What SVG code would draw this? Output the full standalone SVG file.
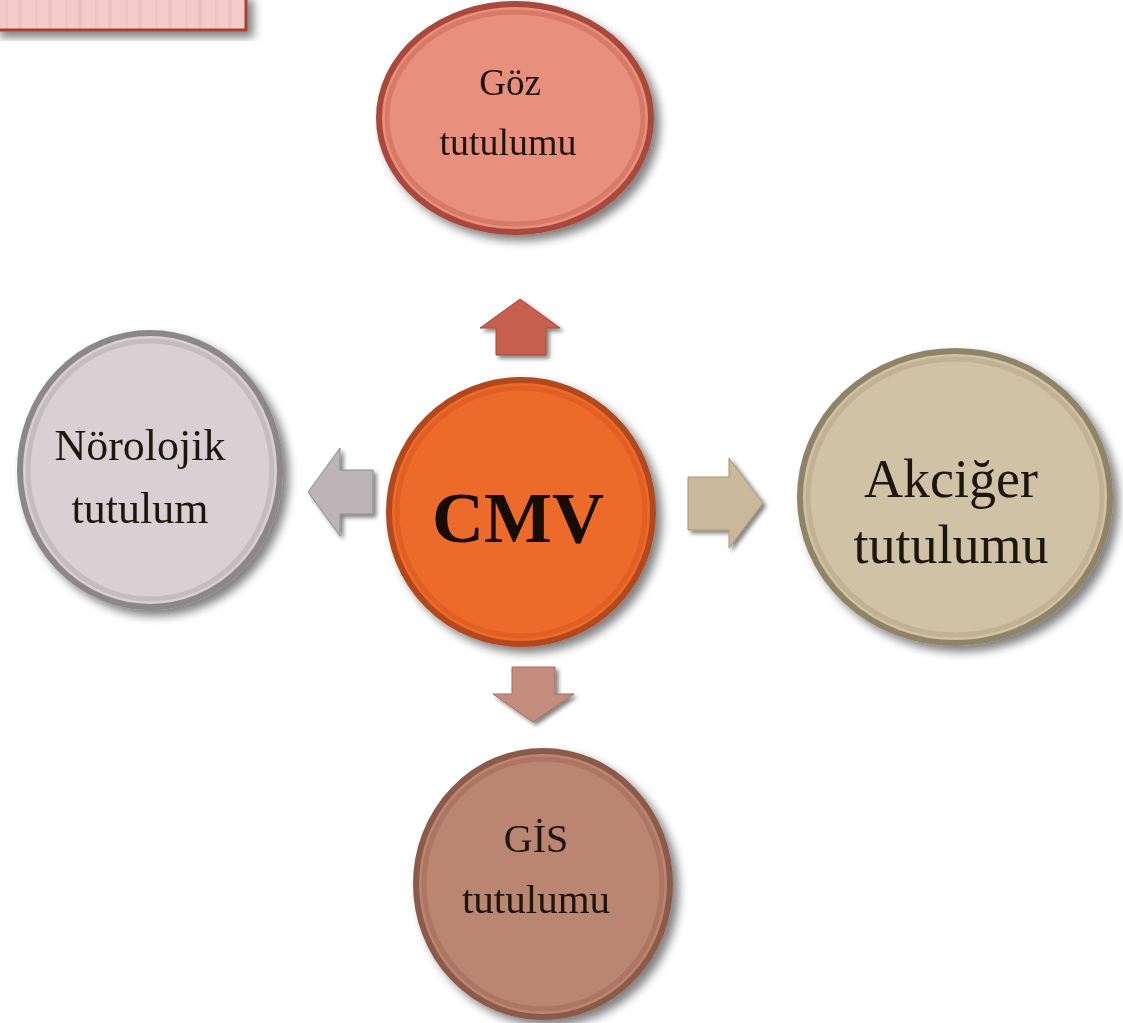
<svg xmlns="http://www.w3.org/2000/svg" width="1123" height="1023" viewBox="0 0 1123 1023">
<defs>
<filter id="sh" x="-20%" y="-20%" width="150%" height="150%">
<feGaussianBlur in="SourceAlpha" stdDeviation="5"/>
<feOffset dx="6" dy="6" result="b"/>
<feComponentTransfer><feFuncA type="linear" slope="0.5"/></feComponentTransfer>
<feMerge><feMergeNode/><feMergeNode in="SourceGraphic"/></feMerge>
</filter>
<filter id="ash" x="-30%" y="-30%" width="170%" height="170%">
<feGaussianBlur in="SourceAlpha" stdDeviation="2"/>
<feOffset dx="3" dy="3"/>
<feComponentTransfer><feFuncA type="linear" slope="0.5"/></feComponentTransfer>
<feMerge><feMergeNode/><feMergeNode in="SourceGraphic"/></feMerge>
</filter>
<pattern id="stripes" width="30" height="40" patternUnits="userSpaceOnUse">
<rect width="30" height="40" fill="#f4cbca"/>
<rect x="18" width="4" height="40" fill="#edc1c0"/>
<rect x="5" width="3" height="40" fill="#f0c6c5"/>
</pattern>
</defs>
<style>
.t{font-family:"Liberation Serif","Times New Roman",serif;fill:#1e1210;text-anchor:middle}
.rim{fill:none;stroke-width:5}
</style>
<rect width="1123" height="1023" fill="#ffffff"/>
<g id="corner-box" filter="url(#sh)">
<rect x="-5" y="-5" width="251" height="35" fill="url(#stripes)" stroke="#a6402a" stroke-width="3"/>
</g>
<g id="connectors">
<path filter="url(#ash)" d="M 496 355 L 496 328 L 480 328 L 520 299 L 560 328 L 546 328 L 546 355 Z" fill="#c65f4d" stroke="#a54a3a" stroke-width="1"/>
<path filter="url(#ash)" d="M 373 470 L 340 470 L 340 448 L 308 492 L 340 536 L 340 514 L 373 514 Z" fill="#bbb5b7" stroke="#8f898b" stroke-width="1"/>
<path filter="url(#ash)" d="M 688 477 L 729 477 L 729 458 L 763 503 L 729 548 L 729 530 L 688 530 Z" fill="#c9b99a" stroke="#a79877" stroke-width="1"/>
<path filter="url(#ash)" d="M 512 667 L 555 667 L 555 694 L 574 694 L 533 722 L 493 694 L 512 694 Z" fill="#c38c7c" stroke="#a06e60" stroke-width="1"/>
</g>
<g id="node-goz" filter="url(#sh)">
<ellipse cx="515" cy="118" rx="136" ry="114" fill="#e98f7d" stroke="#a9493a" stroke-width="6"/>
<ellipse cx="515" cy="118" rx="128" ry="106" class="rim" stroke="#d77a68"/>
<text class="t" x="510" y="95" font-size="37">Göz</text>
<text class="t" x="508" y="155" font-size="38">tutulumu</text>
</g>
<g id="node-norolojik" filter="url(#sh)">
<ellipse cx="150" cy="470" rx="130" ry="137" fill="#d7d1d3" stroke="#8e8789" stroke-width="6"/>
<ellipse cx="150" cy="470" rx="122" ry="129" class="rim" stroke="#c4bdbf"/>
<text class="t" x="140" y="460" font-size="44">Nörolojik</text>
<text class="t" x="140" y="523" font-size="44">tutulum</text>
</g>
<g id="node-cmv" filter="url(#sh)">
<circle cx="521" cy="512" r="132" fill="#ec6b2b" stroke="#b2481a" stroke-width="6"/>
<circle cx="521" cy="512" r="124" class="rim" stroke="#e15f22"/>
<text class="t" x="518" y="542" font-size="72" font-weight="bold" style="fill:#120a06">CMV</text>
</g>
<g id="node-akciger" filter="url(#sh)">
<ellipse cx="955" cy="497" rx="155" ry="146" fill="#d0c2a5" stroke="#8f8468" stroke-width="6"/>
<ellipse cx="955" cy="497" rx="147" ry="138" class="rim" stroke="#c0b293"/>
<text class="t" x="951" y="497" font-size="54">Akciğer</text>
<text class="t" x="951" y="563" font-size="54">tutulumu</text>
</g>
<g id="node-gis" filter="url(#sh)">
<ellipse cx="543" cy="884" rx="127" ry="133" fill="#ba8571" stroke="#8b5a48" stroke-width="6"/>
<ellipse cx="543" cy="884" rx="119" ry="125" class="rim" stroke="#ac7662"/>
<text class="t" x="536" y="852" font-size="40">GİS</text>
<text class="t" x="536" y="913" font-size="41">tutulumu</text>
</g>
</svg>
